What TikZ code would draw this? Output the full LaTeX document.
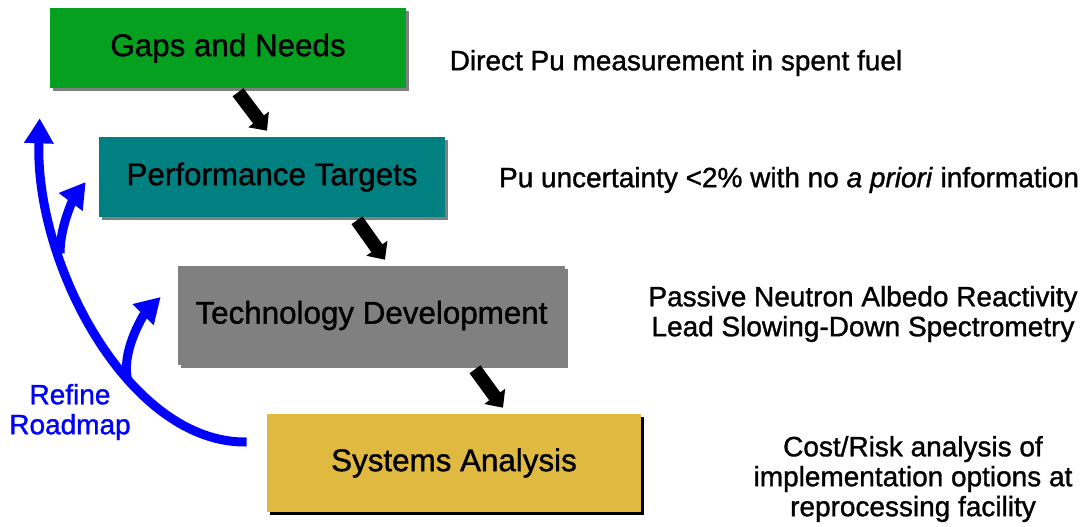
\documentclass[tikz,border=0pt]{standalone}
\usepackage{fontspec}
\setmainfont{Liberation Sans}[FakeBold=1.2]
\usetikzlibrary{arrows.meta,shadows}

\definecolor{gapsgreen}{RGB}{5,160,32}
\definecolor{targetteal}{RGB}{0,128,128}
\definecolor{techgray}{RGB}{128,128,128}
\definecolor{sysyellow}{RGB}{224,186,64}

\begin{document}
\begin{tikzpicture}[
  box/.style={rectangle,inner sep=0pt,font=\fontsize{22.3}{26}\selectfont,
    general shadow={fill=#1,shadow xshift=0.075cm,shadow yshift=-0.075cm}},
  note/.style={align=center,font=\fontsize{19.9}{21.3}\selectfont},
  flow/.style={line width=9.6pt,-{Triangle[length=10pt,width=17.8pt]}},
  refine/.style={color=blue,line width=6.4pt,-{Triangle[length=17.8pt,width=20pt]}}]

\useasboundingbox (0,0) rectangle (27.225,13.15);

\node[box=techgray,fill=gapsgreen,minimum width=8.9cm,minimum height=2cm]
  (gaps) at (5.7,11.95) {Gaps and Needs};
\node[box=techgray,fill=targetteal,minimum width=8.65cm,minimum height=2cm]
  (targets) at (6.8,8.725) {Performance Targets};
\node[box=techgray,fill=techgray,minimum width=9.675cm,minimum height=2.475cm]
  (tech) at (9.2875,5.2625) {Technology Development};
\node[box=black,fill=sysyellow,minimum width=9.35cm,minimum height=2.45cm]
  (sys) at (11.35,1.575) {Systems Analysis};

\draw[flow] ([shift={(0.25,-0.1)}]gaps.south) -- ([shift={(-0.125,0.15)}]targets.north);
\draw[flow] ([shift={(2.125,-0.075)}]targets.south) -- ([shift={(0.3375,0.15)}]tech.north);
\draw[flow] ([shift={(2.5875,-0.1)}]tech.south) -- ([shift={(1.225,0.15)}]sys.north);

\draw[refine] ([shift={(-0.5,0.525)}]sys.west)
  .. controls +(-2.925,-0.05) and +(-0.125,-3.675) ..
  ([shift={(-0.25,-0.75)}]gaps.south west)
  coordinate[pos=0.38] (fork2) coordinate[pos=0.7] (fork1);
\draw[refine] (fork1) .. controls +(-0.01,0.76) and +(-0.225,-0.3) .. ([shift={(-0.325,-0.125)}]targets.west);
\draw[refine] (fork2) .. controls +(-0.135,0.77) and +(-0.35,-0.35) .. ([shift={(-0.425,0.4625)}]tech.west);

\node[note,color=blue] (refinelabel) at (1.75,2.85) {Refine\\Roadmap};

\node[note] (gapsnote) at (16.9,11.575) {Direct Pu measurement in spent fuel};
\node[note] (targetsnote) at (19.725,8.65) {Pu uncertainty <2\% with no \textit{a priori} information};
\node[note] (technote) at (21.575,5.3) {Passive Neutron Albedo Reactivity\\Lead Slowing-Down Spectrometry};
\node[note] (sysnote) at (22.825,1.175) {Cost/Risk analysis of\\implementation options at\\reprocessing facility};

\end{tikzpicture}
\end{document}
